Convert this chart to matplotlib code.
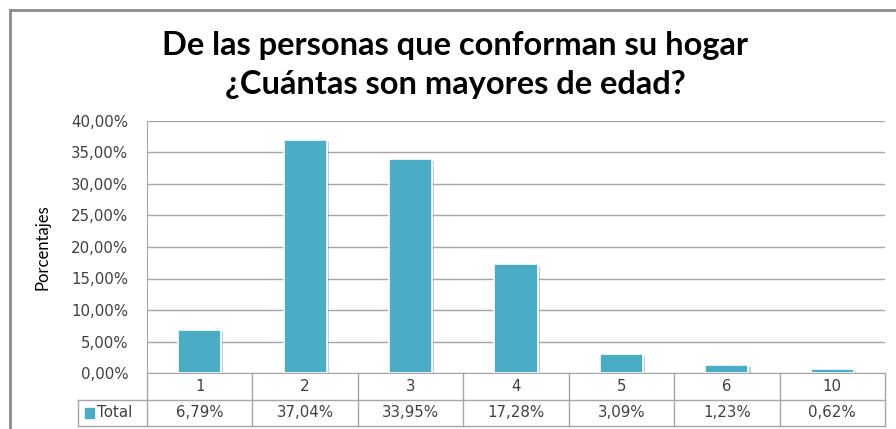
import numpy as np
import matplotlib
matplotlib.use('Agg')
import matplotlib.pyplot as plt
from matplotlib.lines import Line2D
from matplotlib.patches import Rectangle
import matplotlib.patheffects as pe
import matplotlib.transforms as mtrans

categories = ['1', '2', '3', '4', '5', '6', '10']
values = [6.79, 37.04, 33.95, 17.28, 3.09, 1.23, 0.62]
value_labels = ['6,79%', '37,04%', '33,95%', '17,28%', '3,09%', '1,23%', '0,62%']
series_name = 'Total'
yticks = [0, 5, 10, 15, 20, 25, 30, 35, 40]
title = 'De las personas que conforman su hogar\n¿Cuántas son mayores de edad?'
ylabel = 'Porcentajes'

bar_color = '#4BACC6'
grid_color = '#A6A6A6'
text_color = '#404040'
num_font = 'DejaVu Sans'

W, H = 896, 429
fig = plt.figure(figsize=(W/100, H/100), dpi=100)
fig.patch.set_facecolor('white')

# plot area in pixel terms
left, right, top, bottom = 147, 885, 121, 373
ax = fig.add_axes([left/W, 1-bottom/H, (right-left)/W, (bottom-top)/H])

x = np.arange(len(categories))
bars = ax.bar(x, values, width=0.41, color=bar_color, edgecolor='white', linewidth=1.2, zorder=3)
for b in bars:
	b.set_path_effects([pe.SimplePatchShadow(offset=(1.5, -1.5), shadow_rgbFace='#999999', alpha=0.5), pe.Normal()])

ax.set_xlim(-0.5, len(categories)-0.5)
ax.set_ylim(0, 40)
ax.set_yticks(yticks)
ax.set_yticklabels(['%d,00%%' % t for t in yticks], fontsize=10.8, color=text_color, family=num_font)
ax.tick_params(axis='y', length=0, pad=13.5)
ax.set_xticks([])
ax.yaxis.grid(True, color=grid_color, linewidth=1.0, zorder=0)
ax.set_axisbelow(True)
for s in ['top', 'right']:
	ax.spines[s].set_visible(False)
ax.spines['left'].set_color(grid_color)
ax.spines['bottom'].set_color(grid_color)

ax.set_ylabel(ylabel, fontsize=12, family='Lato', color='black', labelpad=15)

# data table below the axis
trans = mtrans.blended_transform_factory(ax.transData, ax.transAxes)
row_h = 26.5/(bottom-top)
legend_left = (78-left)/(right-left)
tab_kw = dict(color=grid_color, linewidth=1.0, clip_on=False)
ax.add_line(Line2D([1, 1], [0, -2*row_h], transform=ax.transAxes, **tab_kw))
ax.add_line(Line2D([0, 0], [0, -2*row_h], transform=ax.transAxes, **tab_kw))
ax.add_line(Line2D([legend_left, 1], [-row_h, -row_h], transform=ax.transAxes, **tab_kw))
ax.add_line(Line2D([legend_left, 1], [-2*row_h, -2*row_h], transform=ax.transAxes, **tab_kw))
ax.add_line(Line2D([legend_left, legend_left], [-row_h, -2*row_h], transform=ax.transAxes, **tab_kw))
for i in range(len(categories)-1):
	ax.add_line(Line2D([i+0.5, i+0.5], [0, -2*row_h], transform=trans, **tab_kw))
for i, (c, v) in enumerate(zip(categories, value_labels)):
	ax.text(i, -row_h/2, c, transform=trans, ha='center', va='center', fontsize=10.8, color=text_color, family=num_font)
	ax.text(i, -1.5*row_h, v, transform=trans, ha='center', va='center', fontsize=10.8, color=text_color, family=num_font)
ax.add_patch(Rectangle((legend_left+0.01, -1.5*row_h-0.02), 0.012, 0.04, transform=ax.transAxes,
	color=bar_color, clip_on=False))
ax.text(legend_left+0.026, -1.5*row_h, series_name, transform=ax.transAxes, ha='left', va='center',
	fontsize=10.8, color=text_color, family=num_font)

fig.text(455/W, 1-65/H, title, ha='center', va='center', fontsize=23.5, fontweight='bold',
	family='Lato', color='black', linespacing=1.38)

# outer chart frame
fig.add_artist(Line2D([10/W, 10/W], [0, 1-10/H], transform=fig.transFigure, color='#8C8C8C', linewidth=2))
fig.add_artist(Line2D([10/W, 1], [1-10/H, 1-10/H], transform=fig.transFigure, color='#8C8C8C', linewidth=2))

fig.savefig('out.png', dpi=100)
